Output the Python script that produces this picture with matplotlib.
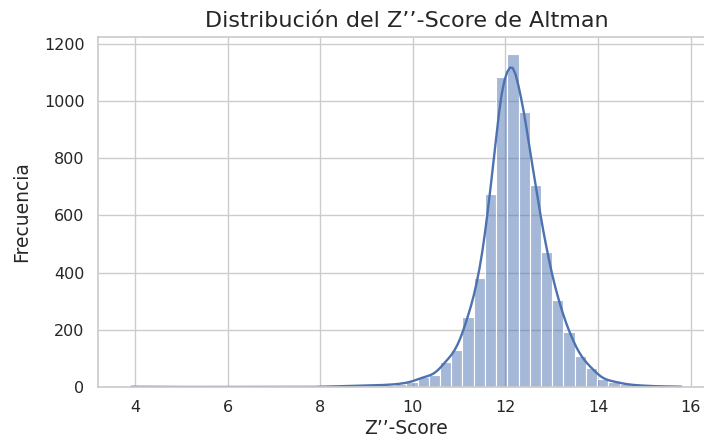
import numpy as np
import pandas as pd
import matplotlib
matplotlib.use("Agg")
import matplotlib.pyplot as plt
import seaborn as sns

# límites de los bins (50 bins entre el mínimo y el máximo)
z_min, z_max = 3.796, 15.92
n_bins = 50

# frecuencias, bin por bin (índice 0 = bin más a la izquierda)
frecuencias = [1, 0, 0, 0, 0, 0, 0, 0, 0, 0,
               0, 0, 0, 0, 0, 0, 0, 1, 2, 3,
               4, 5, 6, 8, 11, 18, 35, 42, 89, 130,
               245, 382, 676, 1083, 1166, 963, 705, 473, 306, 191,
               107, 66, 27, 19, 10, 6, 4, 2, 2, 1]

bordes = np.linspace(z_min, z_max, n_bins + 1)
centros = (bordes[:-1] + bordes[1:]) / 2
df = pd.DataFrame({"z": centros, "n": frecuencias})

sns.set_theme(style="whitegrid")

fig = plt.figure(figsize=(7.04, 4.44), dpi=100)
ax = fig.add_axes([0.1388, 0.1284, 0.8768, 0.7883])

sns.histplot(data=df, x="z", weights="n", bins=n_bins, binrange=(z_min, z_max),
             kde=True, kde_kws={"bw_adjust": 0.3}, line_kws={"linewidth": 1.7},
             color="#4c72b0", ax=ax)

ax.set_title("Distribución del Z’’-Score de Altman", fontsize=16, pad=7)
ax.set_xlabel("Z’’-Score", fontsize=13.5, labelpad=3)
ax.set_ylabel("Frecuencia", fontsize=13.5, labelpad=9)
ax.set_xticks([4, 6, 8, 10, 12, 14, 16])
ax.set_yticks([0, 200, 400, 600, 800, 1000, 1200])
ax.tick_params(labelsize=11.5)

fig.savefig("out.png", dpi=100)
